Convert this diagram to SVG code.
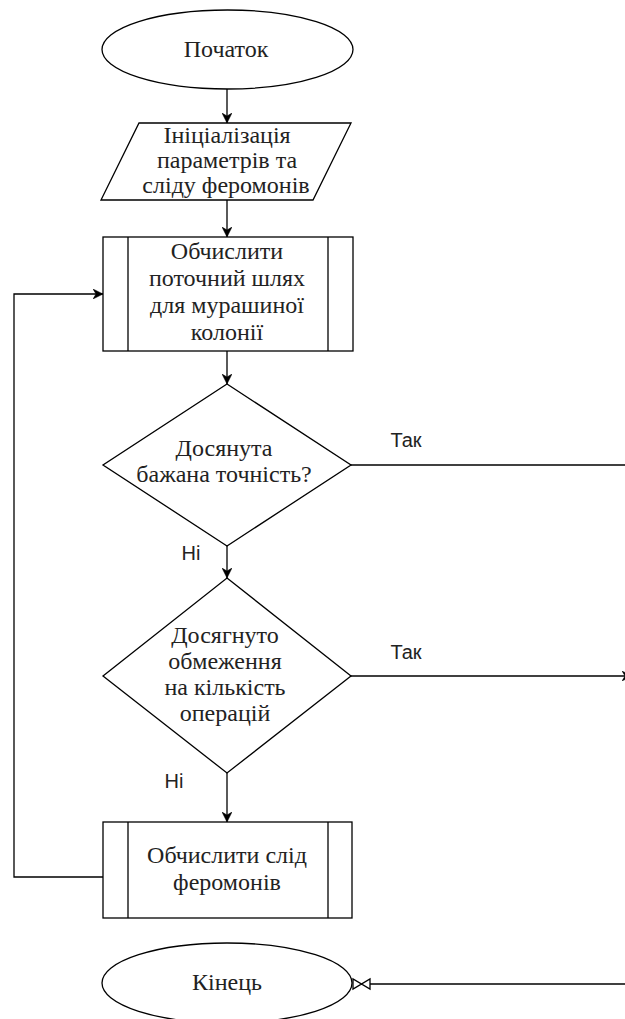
<svg xmlns="http://www.w3.org/2000/svg" width="625" height="1019" viewBox="0 0 625 1019">
  <style>
    .shape { fill: #ffffff; stroke: #000000; stroke-width: 1.3; }
    .edge { fill: none; stroke: #000000; stroke-width: 1.3; }
    .t { font-family: "Liberation Serif", "Times New Roman", serif; font-size: 24px; fill: #222222; text-anchor: middle; }
    .lbl { font-family: "Liberation Sans", Arial, sans-serif; font-size: 20px; fill: #222222; text-anchor: middle; }
  </style>
  <defs>
    <marker id="arrow" viewBox="0 0 10 10" refX="10" refY="5" markerWidth="10" markerHeight="10" markerUnits="userSpaceOnUse" orient="auto">
      <path d="M0,0 L10,5 L0,10 L3,5 Z" fill="#000000" stroke="#000000" stroke-width="0.5"/>
    </marker>
  </defs>
  <rect x="0" y="0" width="625" height="1019" fill="#ffffff"/>

  <g id="connectors">
    <line class="edge" x1="227" y1="89" x2="227" y2="123" marker-end="url(#arrow)"/>
    <line class="edge" x1="227" y1="200" x2="227" y2="237" marker-end="url(#arrow)"/>
    <line class="edge" x1="227" y1="351" x2="227" y2="384" marker-end="url(#arrow)"/>
    <line class="edge" x1="227" y1="546" x2="227" y2="578" marker-end="url(#arrow)"/>
    <line class="edge" x1="227" y1="773" x2="227" y2="822" marker-end="url(#arrow)"/>
    <polyline class="edge" points="103,877 14,877 14,294 103,294" marker-end="url(#arrow)"/>
    <line class="edge" x1="351" y1="465" x2="625" y2="465"/>
    <line class="edge" x1="351" y1="676" x2="632" y2="676" marker-end="url(#arrow)"/>
    <line class="edge" x1="625" y1="984" x2="370" y2="984"/>
    <path class="edge" d="M353,979 L353,989 L370,979 L370,989 Z"/>
    <text class="lbl" x="406" y="447">Так</text>
    <text class="lbl" x="191" y="560">Ні</text>
    <text class="lbl" x="406" y="659">Так</text>
    <text class="lbl" x="174" y="788">Ні</text>
  </g>

  <g id="start">
    <ellipse class="shape" cx="227.5" cy="49.5" rx="125.5" ry="39.5"/>
    <text class="t" x="226" y="57">Початок</text>
  </g>

  <g id="init">
    <polygon class="shape" points="139,123 351,123 313,200 101,200"/>
    <text class="t" x="227" y="143">Ініціалізація</text>
    <text class="t" x="227" y="168">параметрів та</text>
    <text class="t" x="226" y="193">сліду феромонів</text>
  </g>

  <g id="path">
    <rect class="shape" x="103" y="237" width="250" height="114"/>
    <line class="edge" x1="128" y1="237" x2="128" y2="351"/>
    <line class="edge" x1="328" y1="237" x2="328" y2="351"/>
    <text class="t" x="227" y="259">Обчислити</text>
    <text class="t" x="227" y="286">поточний шлях</text>
    <text class="t" x="227" y="313">для мурашиної</text>
    <text class="t" x="227" y="340">колонії</text>
  </g>

  <g id="accuracy">
    <polygon class="shape" points="227,384 351,465 227,546 103,465"/>
    <text class="t" x="224" y="456">Досянута</text>
    <text class="t" x="224" y="482">бажана точність?</text>
  </g>

  <g id="limit">
    <polygon class="shape" points="227,578 351,676 227,773 103,676"/>
    <text class="t" x="225" y="643">Досягнуто</text>
    <text class="t" x="225" y="669">обмеження</text>
    <text class="t" x="225" y="695">на кількість</text>
    <text class="t" x="225" y="721">операцій</text>
  </g>

  <g id="trail">
    <rect class="shape" x="103" y="822" width="249" height="96"/>
    <line class="edge" x1="128" y1="822" x2="128" y2="918"/>
    <line class="edge" x1="328" y1="822" x2="328" y2="918"/>
    <text class="t" x="227" y="863">Обчислити слід</text>
    <text class="t" x="227" y="890">феромонів</text>
  </g>

  <g id="end">
    <ellipse class="shape" cx="227" cy="983" rx="125" ry="40"/>
    <text class="t" x="227" y="990">Кінець</text>
  </g>
</svg>
